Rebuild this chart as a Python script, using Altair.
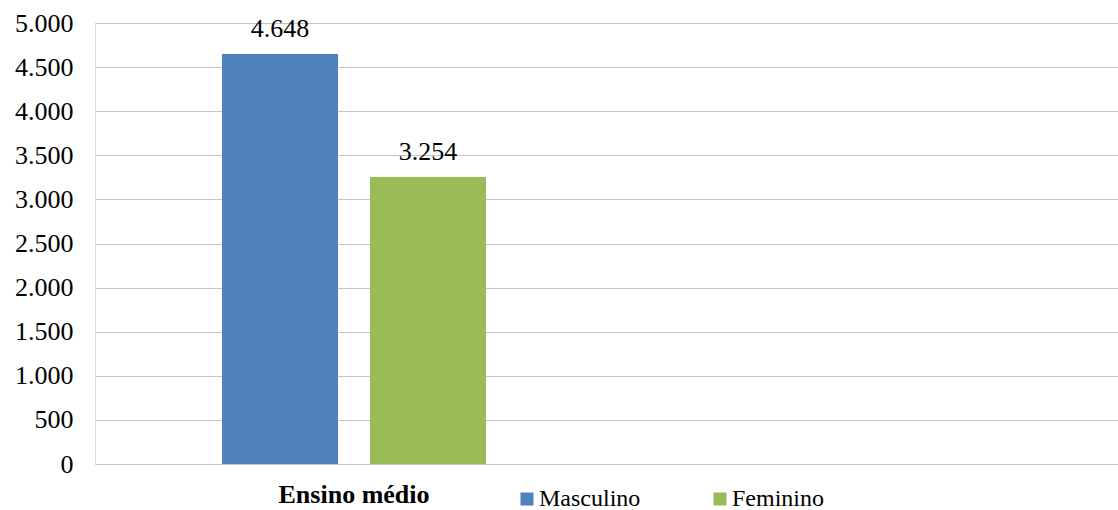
import altair as alt
import pandas as pd

categories = ["Ensino médio"]
genders = ["Masculino", "Feminino"]
values = [4648, 3254]
colors = ["#4F81BD", "#9BBB59"]
y_ticks = [0, 500, 1000, 1500, 2000, 2500, 3000, 3500, 4000, 4500, 5000]

df = pd.DataFrame({
    "cat": [categories[0]] * len(genders),
    "genero": genders,
    "valor": values,
})

FONT = "Times New Roman, Liberation Serif, serif"

x_enc = alt.X(
    "cat:N",
    scale=alt.Scale(domain=categories + ["_"], paddingInner=0, paddingOuter=0.013),
    axis=alt.Axis(
        title=None, domain=False, ticks=False, labelAngle=0,
        labelFont=FONT, labelFontSize=26, labelFontWeight="bold", labelColor="#000000",
        labelPadding=17,
        labelExpr="datum.value == '_' ? '' : datum.value",
    ),
)
xoff = alt.XOffset(
    "genero:N",
    sort=genders,
    scale=alt.Scale(domain=genders, paddingInner=0.216, paddingOuter=0.814),
)
y_enc = alt.Y(
    "valor:Q",
    scale=alt.Scale(domain=[0, 5000], nice=False),
    axis=alt.Axis(
        title=None, domain=False, ticks=False, values=y_ticks,
        grid=True, gridColor="#C6C6C6", gridWidth=1,
        labelFont=FONT, labelFontSize=26, labelColor="#000000", labelPadding=22,
        labelExpr="replace(format(datum.value, ','), ',', '.')",
    ),
)

bars = alt.Chart(df).mark_bar().encode(
    x=x_enc,
    xOffset=xoff,
    y=y_enc,
    color=alt.Color(
        "genero:N",
        sort=genders,
        scale=alt.Scale(domain=genders, range=colors),
        legend=alt.Legend(
            title=None, orient="none", direction="horizontal",
            legendX=420, legendY=464,
            symbolType="square", symbolSize=169, symbolStrokeWidth=0,
            labelFont=FONT, labelFontSize=24, labelColor="#000000",
            labelOffset=0, columnPadding=67, labelLimit=300,
        ),
    ),
)

labels = alt.Chart(df).transform_calculate(
    lbl="replace(format(datum.valor, ','), ',', '.')"
).mark_text(
    baseline="bottom", dy=-12, font=FONT, fontSize=26, color="#000000"
).encode(
    x=alt.X("cat:N", scale=alt.Scale(domain=categories + ["_"], paddingInner=0, paddingOuter=0.013)),
    xOffset=xoff,
    y=alt.Y("valor:Q"),
    text="lbl:N",
)

chart = alt.layer(bars, labels).properties(
    width=1023, height=441,
    padding={"left": 95, "top": 23, "right": 0, "bottom": 46},
    autosize="none",
).configure_view(stroke=None).configure(background="#FFFFFF")

chart.save("out.html", embed_options={"renderer": "svg", "actions": False})
